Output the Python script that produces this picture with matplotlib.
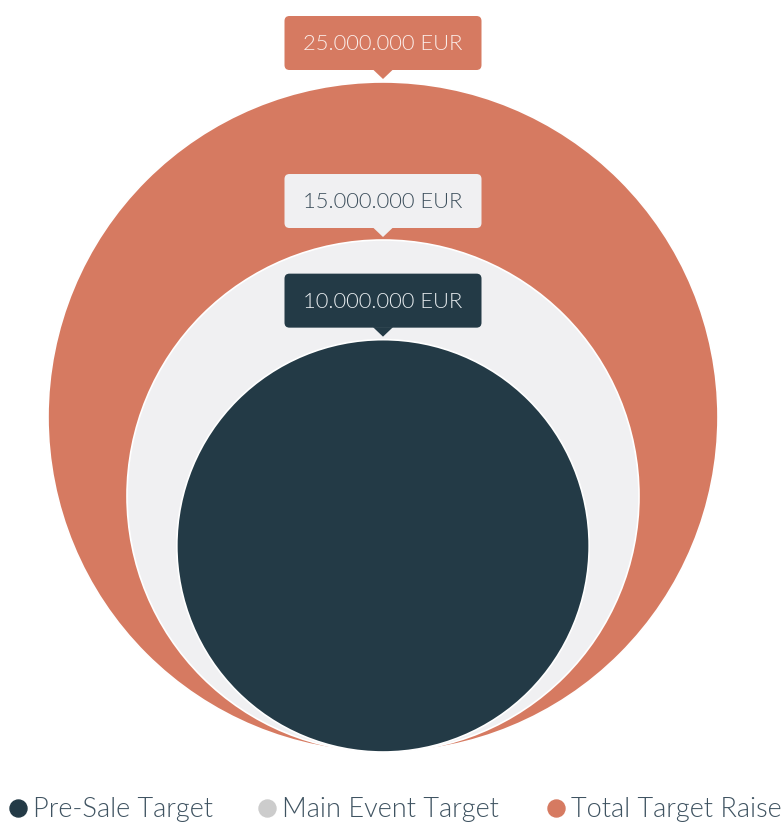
import matplotlib
matplotlib.use("Agg")
import matplotlib.pyplot as plt
from matplotlib.patches import Circle, FancyBboxPatch, Polygon
import numpy as np

categories = ["Total Target Raise", "Main Event Target", "Pre-Sale Target"]
values = [25_000_000, 15_000_000, 10_000_000]
labels = ["25.000.000 EUR", "15.000.000 EUR", "10.000.000 EUR"]
fills = ["#D67A61", "#F0F0F2", "#233A46"]
box_text = ["#FBEEEA", "#3D4F5C", "#E8EDF0"]
legend_order = ["Pre-Sale Target", "Main Event Target", "Total Target Raise"]
legend_colors = ["#233A46", "#CCCCCC", "#D67A61"]

W, H = 783, 825
fig = plt.figure(figsize=(W / 100, H / 100), dpi=100)
ax = fig.add_axes([0, 0, 1, 1])
ax.set_xlim(0, W)
ax.set_ylim(H, 0)
ax.axis("off")

FONT = ["Lato", "DejaVu Sans"]
cx, bottom = 383, 752
k, pad = 70.1, 15.5
for v, lab, fc, tc in zip(values, labels, fills, box_text):
    r = k * np.sqrt(v / 1e6) - pad
    cy = bottom - r
    ax.add_patch(Circle((cx, cy), r, facecolor=fc, edgecolor="white", lw=1.2, zorder=2))
    top = bottom - 2 * r
    tip = top - 3
    bb = tip - 9
    bw, bh = 197, 54
    ax.add_patch(FancyBboxPatch((cx - bw / 2, bb - bh), bw, bh,
                                boxstyle="round,pad=0,rounding_size=5",
                                facecolor=fc, edgecolor="none", zorder=5))
    ax.add_patch(Polygon([[cx - 10, bb - 0.5], [cx + 10, bb - 0.5], [cx, tip]],
                         closed=True, facecolor=fc, edgecolor="none", zorder=5))
    ax.text(cx, bb - bh / 2 + 1, lab, ha="center", va="center", color=tc,
            fontsize=15.8, family=FONT, fontweight=300, zorder=6)

leg_x = [18, 267, 556]
leg_y = 808
for x, name, c in zip(leg_x, legend_order, legend_colors):
    ax.scatter([x], [leg_y], s=150, color=c, zorder=6, clip_on=False)
    ax.text(x + 15, leg_y + 1, name, ha="left", va="center", color="#3F5361",
            fontsize=19.5, family=FONT, fontweight=300)

fig.savefig("out.png", dpi=100, facecolor="white")
